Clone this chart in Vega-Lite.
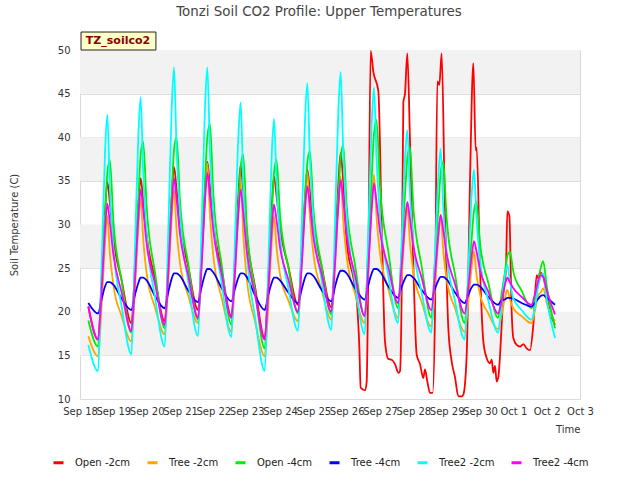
{
"$schema":"https://vega.github.io/schema/vega-lite/v6.json",
"width":500,"height":349,
"autosize":{"type":"none"},
"padding":{"left":80,"top":50,"right":60,"bottom":81},
"config":{"font":"DejaVu Sans","view":{"stroke":"#d9d9d9"},
 "axisX":{"format":"%b %-d","tickCount":{"interval":"day","step":1},"labelOverlap":false,"labelFlush":false,"grid":false,"domain":false,"ticks":false,"labelPadding":7,"labelFontSize":10,"labelColor":"#333333","titleAnchor":"end","titleFontWeight":"normal","titleFontSize":10,"titleColor":"#333333","titlePadding":8},
 "axisY":{"values":[10,15,20,25,30,35,40,45,50],"grid":true,"gridColor":"#dcdcdc","domain":false,"ticks":false,"labelPadding":10,"labelFontSize":10,"labelColor":"#333333","titleFontWeight":"normal","titleFontSize":10,"titleColor":"#333333","titlePadding":38},
 "legend":{"orient":"none","legendX":-28,"legendY":406,"direction":"horizontal","title":null,"symbolType":"stroke","symbolSize":100,"symbolStrokeWidth":3,"labelFontSize":10,"labelColor":"#222222","columnPadding":10,"labelOffset":10,"padding":0}
},
"title":{"text":"Tonzi Soil CO2 Profile: Upper Temperatures","fontSize":13.4,"fontWeight":"normal","color":"#444444","offset":13,"dx":-11},
"datasets":{
"bands":[{"lo":15,"hi":20},{"lo":25,"hi":30},{"lo":35,"hi":40},{"lo":45,"hi":50}],
"red":[
{"t":"2023-09-18T06:00","R":20.6},{"t":"2023-09-18T13:00","R":16.8},{"t":"2023-09-18T15:30","R":23.1},{"t":"2023-09-18T18:00","R":31.3},{"t":"2023-09-18T19:40","R":34.9},{"t":"2023-09-18T21:30","R":32.5},
{"t":"2023-09-19T00:00","R":28.4},{"t":"2023-09-19T06:00","R":23.6},{"t":"2023-09-19T13:00","R":18.7},{"t":"2023-09-19T15:30","R":24.5},{"t":"2023-09-19T18:00","R":32.0},{"t":"2023-09-19T19:40","R":35.3},{"t":"2023-09-19T21:30","R":32.8},
{"t":"2023-09-20T00:00","R":28.7},{"t":"2023-09-20T06:00","R":23.8},{"t":"2023-09-20T13:00","R":18.9},{"t":"2023-09-20T15:30","R":25.1},{"t":"2023-09-20T18:00","R":33.1},{"t":"2023-09-20T19:40","R":36.6},{"t":"2023-09-20T21:30","R":34.1},
{"t":"2023-09-21T00:00","R":30.0},{"t":"2023-09-21T06:00","R":25.1},{"t":"2023-09-21T13:00","R":20.2},{"t":"2023-09-21T15:30","R":26.2},{"t":"2023-09-21T18:00","R":33.8},{"t":"2023-09-21T19:40","R":37.2},{"t":"2023-09-21T21:30","R":34.5},
{"t":"2023-09-22T00:00","R":30.1},{"t":"2023-09-22T06:00","R":24.8},{"t":"2023-09-22T13:00","R":19.5},{"t":"2023-09-22T15:30","R":25.6},{"t":"2023-09-22T18:00","R":33.3},{"t":"2023-09-22T19:40","R":36.8},{"t":"2023-09-22T21:30","R":33.8},
{"t":"2023-09-23T00:00","R":28.9},{"t":"2023-09-23T06:00","R":22.9},{"t":"2023-09-23T13:00","R":17.0},{"t":"2023-09-23T15:30","R":23.5},{"t":"2023-09-23T18:00","R":31.8},{"t":"2023-09-23T19:40","R":35.5},{"t":"2023-09-23T21:30","R":33.3},
{"t":"2023-09-24T00:00","R":29.6},{"t":"2023-09-24T06:00","R":25.2},{"t":"2023-09-24T13:00","R":20.8},{"t":"2023-09-24T15:30","R":26.2},{"t":"2023-09-24T18:00","R":33.2},{"t":"2023-09-24T19:40","R":36.3},{"t":"2023-09-24T21:30","R":33.9},
{"t":"2023-09-25T00:00","R":30.0},{"t":"2023-09-25T06:00","R":25.2},{"t":"2023-09-25T13:00","R":20.5},{"t":"2023-09-25T15:30","R":26.7},{"t":"2023-09-25T18:00","R":34.7},{"t":"2023-09-25T19:40","R":38.2},{"t":"2023-09-25T21:30","R":35.0},
{"t":"2023-09-26T00:00","R":28.0},{"t":"2023-09-26T04:48","R":23.9},{"t":"2023-09-26T07:12","R":21.5},{"t":"2023-09-26T09:07","R":16},{"t":"2023-09-26T10:05","R":11.3},{"t":"2023-09-26T13:12","R":11.0},{"t":"2023-09-26T14:24","R":12},{"t":"2023-09-26T15:36","R":25},{"t":"2023-09-26T17:17","R":49.9},{"t":"2023-09-26T19:12","R":47.5},{"t":"2023-09-26T22:48","R":45.3},
{"t":"2023-09-27T01:12","R":30},{"t":"2023-09-27T03:36","R":16.6},{"t":"2023-09-27T06:00","R":14.6},{"t":"2023-09-27T08:24","R":14.5},{"t":"2023-09-27T10:48","R":14.0},{"t":"2023-09-27T13:12","R":13.0},{"t":"2023-09-27T14:24","R":13.2},{"t":"2023-09-27T15:36","R":22},{"t":"2023-09-27T16:48","R":44},{"t":"2023-09-27T18:00","R":45},{"t":"2023-09-27T19:41","R":49.6},{"t":"2023-09-27T21:36","R":39.5},
{"t":"2023-09-28T00:00","R":25.3},{"t":"2023-09-28T02:24","R":15.1},{"t":"2023-09-28T04:48","R":14.0},{"t":"2023-09-28T07:12","R":12.4},{"t":"2023-09-28T08:24","R":13.4},{"t":"2023-09-28T10:05","R":12.0},{"t":"2023-09-28T12:00","R":10.7},{"t":"2023-09-28T13:55","R":10.7},{"t":"2023-09-28T15:36","R":20},{"t":"2023-09-28T17:17","R":46.4},{"t":"2023-09-28T18:43","R":46},{"t":"2023-09-28T20:24","R":49.6},{"t":"2023-09-28T22:48","R":31.2},
{"t":"2023-09-29T01:12","R":18.1},{"t":"2023-09-29T03:36","R":14.3},{"t":"2023-09-29T06:00","R":12.5},{"t":"2023-09-29T08:24","R":10.3},{"t":"2023-09-29T10:48","R":10.3},{"t":"2023-09-29T12:00","R":10.5},{"t":"2023-09-29T14:24","R":15},{"t":"2023-09-29T16:48","R":35},{"t":"2023-09-29T19:12","R":48.5},{"t":"2023-09-29T20:53","R":38.5},{"t":"2023-09-29T21:36","R":38.8},
{"t":"2023-09-30T00:00","R":25},{"t":"2023-09-30T02:24","R":16.6},{"t":"2023-09-30T04:48","R":14.7},{"t":"2023-09-30T07:12","R":14.1},{"t":"2023-09-30T08:24","R":14.5},{"t":"2023-09-30T09:36","R":13.0},{"t":"2023-09-30T10:48","R":13.8},{"t":"2023-09-30T12:00","R":12.0},{"t":"2023-09-30T13:12","R":12.5},{"t":"2023-09-30T15:36","R":18.5},{"t":"2023-09-30T16:48","R":22},{"t":"2023-09-30T18:43","R":25},{"t":"2023-09-30T19:41","R":31.5},{"t":"2023-09-30T21:07","R":31},{"t":"2023-09-30T22:48","R":20},
{"t":"2023-10-01T00:00","R":17.0},{"t":"2023-10-01T02:24","R":16.2},{"t":"2023-10-01T04:48","R":16.0},{"t":"2023-10-01T07:12","R":16.3},{"t":"2023-10-01T09:36","R":15.8},{"t":"2023-10-01T12:00","R":15.6},{"t":"2023-10-01T14:24","R":18.5},{"t":"2023-10-01T16:48","R":24.2},{"t":"2023-10-01T18:00","R":23.8},{"t":"2023-10-01T19:12","R":24.5},{"t":"2023-10-01T21:36","R":24.0},
{"t":"2023-10-02T00:00","R":22},{"t":"2023-10-02T02:24","R":20},{"t":"2023-10-02T06:00","R":18.5}
],
"rest":[
{"t":"2023-09-18T06:00","O":17.2,"G":19.0,"B":21.0,"C":16.2,"M":20.6},
{"t":"2023-09-18T13:00","O":14.9,"G":16.0,"B":19.8,"C":13.2,"M":16.8},
{"t":"2023-09-18T15:30","O":20.5,"G":23.5,"B":21.4,"C":25.0,"M":22.3},
{"t":"2023-09-18T18:00","O":27.8,"G":31.0,"B":22.9,"C":38.2,"M":29.3},
{"t":"2023-09-18T19:40","O":31,"G":35.9,"B":23.4,"C":42.6,"M":32.4},
{"t":"2023-09-18T21:30","O":26.7,"G":37.4,"B":23.4,"C":34.4,"M":30.2},
{"t":"2023-09-19T00:00","O":23.1,"G":30.5,"B":23.1,"C":27.5,"M":26.6},
{"t":"2023-09-19T06:00","O":19.5,"G":23.5,"B":21.5,"C":20.6,"M":22.2},
{"t":"2023-09-19T13:00","O":16.6,"G":17.6,"B":20.2,"C":15.1,"M":17.8},
{"t":"2023-09-19T15:30","O":22.3,"G":25.3,"B":21.9,"C":26.9,"M":23.5},
{"t":"2023-09-19T18:00","O":29.7,"G":32.9,"B":23.3,"C":40.2,"M":30.8},
{"t":"2023-09-19T19:40","O":33,"G":38.0,"B":23.9,"C":44.6,"M":34.0},
{"t":"2023-09-19T21:30","O":28.3,"G":39.5,"B":23.9,"C":36.0,"M":31.7},
{"t":"2023-09-20T00:00","O":24.4,"G":32.0,"B":23.6,"C":28.9,"M":27.8},
{"t":"2023-09-20T06:00","O":20.5,"G":24.5,"B":21.8,"C":21.7,"M":23.2},
{"t":"2023-09-20T13:00","O":17.4,"G":18.1,"B":20.4,"C":16.0,"M":18.5},
{"t":"2023-09-20T15:30","O":23.2,"G":25.8,"B":22.2,"C":28.8,"M":24.4},
{"t":"2023-09-20T18:00","O":30.7,"G":33.4,"B":23.8,"C":43.2,"M":31.9},
{"t":"2023-09-20T19:40","O":34,"G":38.5,"B":24.4,"C":48.0,"M":35.3},
{"t":"2023-09-20T21:30","O":29.4,"G":40.0,"B":24.4,"C":38.8,"M":32.9},
{"t":"2023-09-21T00:00","O":25.6,"G":32.7,"B":24.1,"C":31.1,"M":28.9},
{"t":"2023-09-21T06:00","O":21.8,"G":25.4,"B":22.4,"C":23.4,"M":24.1},
{"t":"2023-09-21T13:00","O":18.7,"G":19.1,"B":21.1,"C":17.2,"M":19.3},
{"t":"2023-09-21T15:30","O":25.1,"G":27.0,"B":22.8,"C":29.5,"M":25.1},
{"t":"2023-09-21T18:00","O":33.3,"G":34.9,"B":24.3,"C":43.4,"M":32.6},
{"t":"2023-09-21T19:40","O":37,"G":40.0,"B":24.9,"C":48.0,"M":35.9},
{"t":"2023-09-21T21:30","O":31.2,"G":41.6,"B":24.9,"C":38.7,"M":33.4},
{"t":"2023-09-22T00:00","O":26.4,"G":33.5,"B":24.5,"C":31.0,"M":29.3},
{"t":"2023-09-22T06:00","O":21.6,"G":25.4,"B":22.7,"C":23.3,"M":24.3},
{"t":"2023-09-22T13:00","O":17.7,"G":18.5,"B":21.2,"C":17.1,"M":19.3},
{"t":"2023-09-22T15:30","O":23.8,"G":25.3,"B":22.6,"C":27.9,"M":24.4},
{"t":"2023-09-22T18:00","O":31.5,"G":32.2,"B":23.9,"C":40.0,"M":31.1},
{"t":"2023-09-22T19:40","O":35,"G":36.6,"B":24.4,"C":44.0,"M":34.0},
{"t":"2023-09-22T21:30","O":29.0,"G":38.0,"B":24.4,"C":34.8,"M":31.4},
{"t":"2023-09-23T00:00","O":23.9,"G":30.2,"B":24.0,"C":27.1,"M":27.1},
{"t":"2023-09-23T06:00","O":18.9,"G":22.5,"B":21.9,"C":19.4,"M":22.0},
{"t":"2023-09-23T13:00","O":14.9,"G":15.8,"B":20.2,"C":13.2,"M":16.8},
{"t":"2023-09-23T15:30","O":20.5,"G":23.4,"B":21.9,"C":24.8,"M":22.2},
{"t":"2023-09-23T18:00","O":27.8,"G":30.9,"B":23.3,"C":37.8,"M":29.2},
{"t":"2023-09-23T19:40","O":31,"G":35.9,"B":23.9,"C":42.1,"M":32.3},
{"t":"2023-09-23T21:30","O":27.4,"G":37.4,"B":23.9,"C":34.8,"M":30.5},
{"t":"2023-09-24T00:00","O":24.3,"G":31.2,"B":23.6,"C":28.7,"M":27.4},
{"t":"2023-09-24T06:00","O":21.3,"G":25.1,"B":22.2,"C":22.7,"M":23.7},
{"t":"2023-09-24T13:00","O":18.9,"G":19.8,"B":21.0,"C":17.8,"M":20.0},
{"t":"2023-09-24T15:30","O":24.9,"G":26.3,"B":22.5,"C":29.2,"M":25.0},
{"t":"2023-09-24T18:00","O":32.6,"G":32.8,"B":23.9,"C":41.9,"M":31.5},
{"t":"2023-09-24T19:40","O":36,"G":37.1,"B":24.4,"C":46.2,"M":34.4},
{"t":"2023-09-24T21:30","O":30.9,"G":38.4,"B":24.4,"C":37.7,"M":32.2},
{"t":"2023-09-25T00:00","O":26.7,"G":31.9,"B":24.1,"C":30.6,"M":28.6},
{"t":"2023-09-25T06:00","O":22.5,"G":25.3,"B":22.5,"C":23.6,"M":24.3},
{"t":"2023-09-25T13:00","O":19.1,"G":19.7,"B":21.2,"C":17.9,"M":20.0},
{"t":"2023-09-25T15:30","O":24.8,"G":26.5,"B":22.8,"C":29.7,"M":25.3},
{"t":"2023-09-25T18:00","O":32.2,"G":33.3,"B":24.2,"C":43.1,"M":32.1},
{"t":"2023-09-25T19:40","O":35.5,"G":37.7,"B":24.7,"C":47.5,"M":35.1},
{"t":"2023-09-25T21:30","O":30.5,"G":39.1,"B":24.7,"C":38.5,"M":32.8},
{"t":"2023-09-26T00:00","O":26.3,"G":32.2,"B":24.4,"C":30.9,"M":28.9},
{"t":"2023-09-26T06:00","O":22.1,"G":25.4,"B":22.7,"C":23.4,"M":24.2},
{"t":"2023-09-26T13:00","O":18.7,"G":19.5,"B":21.4,"C":17.4,"M":19.5},
{"t":"2023-09-26T15:30","O":24.7,"G":27.4,"B":23.0,"C":28.7,"M":24.8},
{"t":"2023-09-26T18:00","O":32.3,"G":35.3,"B":24.4,"C":41.5,"M":31.7},
{"t":"2023-09-26T19:40","O":35.7,"G":40.4,"B":24.9,"C":45.7,"M":34.7},
{"t":"2023-09-26T21:30","O":30.8,"G":42.0,"B":24.9,"C":37.6,"M":32.6},
{"t":"2023-09-27T00:00","O":26.7,"G":34.4,"B":24.6,"C":30.9,"M":29.2},
{"t":"2023-09-27T06:00","O":22.6,"G":26.9,"B":22.9,"C":24.1,"M":25.1},
{"t":"2023-09-27T13:00","O":19.3,"G":20.4,"B":21.6,"C":18.7,"M":21.0},
{"t":"2023-09-27T15:30","O":23.8,"G":26.9,"B":22.8,"C":27.5,"M":25.1},
{"t":"2023-09-27T18:00","O":29.6,"G":33.4,"B":23.8,"C":37.5,"M":30.3},
{"t":"2023-09-27T19:40","O":32.2,"G":37.6,"B":24.2,"C":40.8,"M":32.6},
{"t":"2023-09-27T21:30","O":28.0,"G":38.9,"B":24.2,"C":33.8,"M":30.7},
{"t":"2023-09-28T00:00","O":24.6,"G":32.0,"B":23.9,"C":28.0,"M":27.6},
{"t":"2023-09-28T06:00","O":21.1,"G":25.2,"B":22.5,"C":22.2,"M":23.9},
{"t":"2023-09-28T13:00","O":18.3,"G":19.3,"B":21.4,"C":17.6,"M":20.2},
{"t":"2023-09-28T15:30","O":22.8,"G":25.6,"B":22.6,"C":26.0,"M":24.0},
{"t":"2023-09-28T18:00","O":28.5,"G":31.8,"B":23.6,"C":35.5,"M":28.9},
{"t":"2023-09-28T19:40","O":31.1,"G":35.9,"B":24.0,"C":38.7,"M":31.1},
{"t":"2023-09-28T21:30","O":27.1,"G":37.2,"B":24.0,"C":32.1,"M":29.4},
{"t":"2023-09-29T00:00","O":23.7,"G":30.7,"B":23.7,"C":26.7,"M":26.6},
{"t":"2023-09-29T06:00","O":20.4,"G":24.3,"B":22.2,"C":21.2,"M":23.2},
{"t":"2023-09-29T13:00","O":17.7,"G":18.7,"B":21.0,"C":16.8,"M":19.8},
{"t":"2023-09-29T15:30","O":20.9,"G":23.6,"B":21.9,"C":24.6,"M":22.7},
{"t":"2023-09-29T18:00","O":25.1,"G":28.4,"B":22.8,"C":33.4,"M":26.4},
{"t":"2023-09-29T19:40","O":26.9,"G":31.6,"B":23.1,"C":36.3,"M":28.1},
{"t":"2023-09-29T21:30","O":24.2,"G":32.6,"B":23.1,"C":30.7,"M":26.9},
{"t":"2023-09-30T00:00","O":22.0,"G":27.9,"B":22.9,"C":26.0,"M":24.8},
{"t":"2023-09-30T06:00","O":19.8,"G":23.3,"B":21.7,"C":21.3,"M":22.3},
{"t":"2023-09-30T13:00","O":18.0,"G":19.3,"B":20.8,"C":17.6,"M":19.8},
{"t":"2023-09-30T15:30","O":19.6,"G":22.0,"B":21.3,"C":20.7,"M":21.2},
{"t":"2023-09-30T18:00","O":21.6,"G":24.6,"B":21.4,"C":24.2,"M":23.1},
{"t":"2023-09-30T19:40","O":22.5,"G":26.4,"B":21.6,"C":25.4,"M":23.9},
{"t":"2023-09-30T21:30","O":21.4,"G":26.9,"B":21.6,"C":23.5,"M":23.4},
{"t":"2023-10-01T00:00","O":20.4,"G":24.6,"B":21.5,"C":21.5,"M":22.7},
{"t":"2023-10-01T06:00","O":19.5,"G":22.4,"B":21.0,"C":20.2,"M":21.7},
{"t":"2023-10-01T13:00","O":18.7,"G":20.4,"B":20.6,"C":19.1,"M":20.8},
{"t":"2023-10-01T15:30","O":20.1,"G":21.5,"B":21.0,"C":20.5,"M":22.0},
{"t":"2023-10-01T18:00","O":21.9,"G":23.6,"B":21.5,"C":23.0,"M":23.6},
{"t":"2023-10-01T19:40","O":22.2,"G":25.0,"B":21.8,"C":24.0,"M":24.2},
{"t":"2023-10-01T21:30","O":22.7,"G":25.8,"B":21.9,"C":24.4,"M":24.0},
{"t":"2023-10-02T00:00","O":21.0,"G":23.0,"B":21.6,"C":21.5,"M":22.5},
{"t":"2023-10-02T06:00","O":18.9,"G":18.1,"B":20.8,"C":17.0,"M":19.7}
]
},
"layer":[
{"data":{"name":"bands"},"mark":{"type":"rect","fill":"#f2f2f2"},
 "encoding":{"y":{"field":"lo","type":"quantitative","scale":{"domain":[10,50],"nice":false,"zero":false},"title":"Soil Temperature (C)"},"y2":{"field":"hi"}}},
{"data":{"name":"red"},"transform":[{"fold":["R"],"as":["s","v"]}],
 "mark":{"type":"line","strokeWidth":1.8,"interpolate":"monotone"},
 "encoding":{
  "x":{"field":"t","type":"temporal","title":"Time","scale":{"domain":[{"year":2023,"month":9,"date":18},{"year":2023,"month":10,"date":3}]}},
  "y":{"field":"v","type":"quantitative","title":"Soil Temperature (C)"},
  "color":{"field":"s","type":"nominal","scale":{"domain":["R","O","G","B","C","M"],"range":["#ff0000","#ffa500","#00ee00","#0000ff","#00ffff","#ff00ff"]},"legend":{"labelExpr":"{'R':'Open -2cm','O':'Tree -2cm','G':'Open -4cm','B':'Tree -4cm','C':'Tree2 -2cm','M':'Tree2 -4cm'}[datum.label]"}}}},
{"data":{"name":"rest"},"transform":[{"fold":["O","G","B","C","M"],"as":["s","v"]}],
 "mark":{"type":"line","strokeWidth":1.8,"interpolate":"monotone"},
 "encoding":{
  "x":{"field":"t","type":"temporal","title":"Time"},
  "y":{"field":"v","type":"quantitative","title":"Soil Temperature (C)"},
  "color":{"field":"s","type":"nominal","legend":{"labelExpr":"{'R':'Open -2cm','O':'Tree -2cm','G':'Open -4cm','B':'Tree -4cm','C':'Tree2 -2cm','M':'Tree2 -4cm'}[datum.label]"}}}},
{"data":{"values":[{}]},"mark":{"type":"rect","fill":"#ffffc8","stroke":"#222222","strokeWidth":1},
 "encoding":{
  "x":{"datum":{"year":2023,"month":9,"date":18,"hours":0,"minutes":45},"type":"temporal","title":"Time"},
  "x2":{"datum":{"year":2023,"month":9,"date":20,"hours":6,"minutes":40}},
  "y":{"datum":50,"type":"quantitative","title":"Soil Temperature (C)"},
  "y2":{"datum":52.06}}},
{"data":{"values":[{}]},"mark":{"type":"text","text":"TZ_soilco2","fontSize":11,"fontWeight":"bold","color":"#8b0000","align":"center","baseline":"middle"},
 "encoding":{
  "x":{"datum":{"year":2023,"month":9,"date":19,"hours":3,"minutes":22},"type":"temporal","title":"Time"},
  "y":{"datum":51.05,"type":"quantitative","title":"Soil Temperature (C)"}}}
]
}
